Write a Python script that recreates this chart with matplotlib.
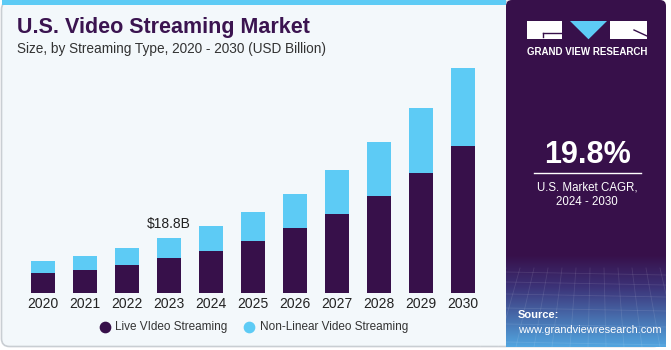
import matplotlib.pyplot as plt
import numpy as np
from matplotlib.patches import FancyBboxPatch, Rectangle, Polygon

plt.rcParams['font.family'] = ['Liberation Sans', 'DejaVu Sans']

years = ['2020', '2021', '2022', '2023', '2024', '2025', '2026', '2027', '2028', '2029', '2030']
live = [6.8, 7.9, 9.7, 12.0, 14.4, 18.0, 22.2, 27.0, 33.4, 41.3, 50.5]
nonlinear = [4.2, 4.9, 5.7, 6.8, 8.6, 9.7, 11.9, 15.2, 18.4, 22.2, 26.7]

purple = '#37104A'
blue = '#5DCBF5'
panel_bg = '#F3F8FB'

W, H = 671, 350
fig = plt.figure(figsize=(W / 100, H / 100), dpi=100)
fig.patch.set_facecolor('white')

# background drawing axes in pixel coordinates (y down)
bg = fig.add_axes([0, 0, 1, 1])
bg.set_xlim(0, W)
bg.set_ylim(H, 0)
bg.axis('off')

bg.add_patch(FancyBboxPatch((1.5, 1.5), 660, 345, boxstyle='round,pad=0,rounding_size=8',
                            fc=panel_bg, ec='#C9CED3', lw=1.2))
bg.add_patch(Rectangle((1.5, 0), 504, 5, fc=blue, ec='none'))

# right panel, gradient towards the bottom
c_top = np.array([0x37, 0x10, 0x4A]) / 255
c_mid = np.array([0x3C, 0x33, 0x78]) / 255
c_bot = np.array([0x52, 0xA6, 0xE0]) / 255
rows = []
for t in np.linspace(0, 1, 200):
    if t < 0.35:
        rows.append(c_top + (c_mid - c_top) * t / 0.35)
    else:
        rows.append(c_mid + (c_bot - c_mid) * (t - 0.35) / 0.65)
img = np.array(rows)[:, None, :]
bg.add_patch(FancyBboxPatch((506, 0), 160, 347, boxstyle='round,pad=0,rounding_size=6',
                            fc=purple, ec='none'))
bg.imshow(img, extent=(506, 666, 347, 255), aspect='auto', zorder=2)

# faint mesh
for k in range(12):
    bg.plot([506 + k * 14, 480 + k * 18], [268, 347], color='white', alpha=0.1, lw=0.6, zorder=3)
for yy in [272, 282, 294, 308, 324, 342]:
    bg.plot([506, 666], [yy, yy + 3], color='white', alpha=0.1, lw=0.6, zorder=3)

# logo
bg.add_patch(Rectangle((527, 21), 35, 18, fc='white', ec='none', zorder=4))
bg.plot([543, 562], [32.7, 32.7], color=purple, lw=1, zorder=5)
bg.plot([543, 543], [32.7, 37], color=purple, lw=1, zorder=5)
bg.add_patch(Polygon([(570, 21), (607, 21), (588.5, 39.3)], fc=blue, ec='none', zorder=4))
bg.add_patch(Rectangle((610, 21), 37, 18, fc='white', ec='none', zorder=4))
bg.plot([634, 647], [30, 36], color=purple, lw=1, zorder=5)
bg.text(587, 51.7, 'GRAND VIEW RESEARCH', color='white', fontsize=7.0, fontweight='bold',
        ha='center', va='center', zorder=5)

bg.text(587, 155, '19.8%', color='white', fontsize=22, fontweight='bold', ha='center', va='center', zorder=5)
bg.plot([534, 641], [173, 173], color='white', lw=1, zorder=5)
bg.text(587, 187, 'U.S. Market CAGR,', color='white', fontsize=8.3, ha='center', va='center', zorder=5)
bg.text(587, 202, '2024 - 2030', color='white', fontsize=8.3, ha='center', va='center', zorder=5)
bg.text(518, 315, 'Source:', color='white', fontsize=8, fontweight='bold', ha='left', va='center', zorder=5)
bg.text(518, 330, 'www.grandviewresearch.com', color='white', fontsize=7.9, ha='left', va='center', zorder=5)

# titles
bg.text(17, 28, 'U.S. Video Streaming Market', color='#3B1450', fontsize=15.5, fontweight='bold',
        ha='left', va='center')
bg.text(17, 49, 'Size, by Streaming Type, 2020 - 2030 (USD Billion)', color='#333333', fontsize=9.8,
        ha='left', va='center')

# legend
bg.scatter([104.7], [327], s=55, color=purple, zorder=5)
bg.text(115, 327, 'Live VIdeo Streaming', color='#333333', fontsize=8.5, ha='left', va='center')
bg.scatter([249], [327], s=55, color=blue, zorder=5)
bg.text(260, 327, 'Non-Linear Video Streaming', color='#333333', fontsize=8.5, ha='left', va='center')

# bar chart
x0_px, x1_px = 10, 495
base_px, top_px = 293, 60
step = 41.97
ax = fig.add_axes([x0_px / W, (H - base_px) / H, (x1_px - x0_px) / W, (base_px - top_px) / H])
ax.set_xlim((x0_px - 43) / step, (x1_px - 43) / step)
ax.set_ylim(0, (base_px - top_px) * 0.3437)
ax.patch.set_alpha(0)
x = np.arange(len(years))
ax.bar(x, live, width=0.57, color=purple)
ax.bar(x, nonlinear, width=0.57, bottom=live, color=blue)
for s in ax.spines.values():
    s.set_visible(False)
ax.set_yticks([])
ax.set_xticks(x)
ax.set_xticklabels(years, fontsize=10, color='#222222')
ax.tick_params(axis='x', length=0, pad=3)
ax.annotate('$18.8B', (3, live[3] + nonlinear[3]), xytext=(0, 5), textcoords='offset points',
            ha='center', va='bottom', fontsize=10, color='#222222')

fig.savefig('out.png', dpi=100)
